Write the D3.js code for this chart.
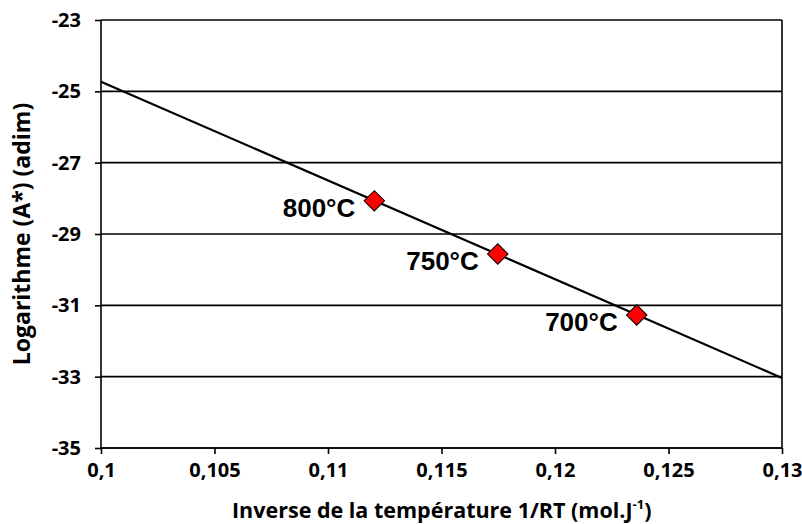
<!DOCTYPE html>
<html><head><meta charset="utf-8">
<script src="https://cdn.jsdelivr.net/npm/d3@7"></script>
<style>body{margin:0;background:#fff}svg{display:block}</style>
</head><body>
<svg id="c" width="802" height="524"></svg>
<script>
const invRT = [0.11204, 0.11748, 0.12360];
const lnA = [-28.07, -29.56, -31.27];
const labels = ["800°C", "750°C", "700°C"];
const xTicks = [0.1, 0.105, 0.11, 0.115, 0.12, 0.125, 0.13];
const yTicks = [-35, -33, -31, -29, -27, -25, -23];

const svg = d3.select("#c");
const L = 101, R = 782, T = 20, B = 448;
const x = d3.scaleLinear().domain([0.1, 0.13]).range([L, R]);
const y = d3.scaleLinear().domain([-35, -23]).range([B, T]);
const fmt = d => String(d).replace(".", ",");
const arial = "Liberation Sans, Arial, sans-serif";
const cal = "Open Sans, sans-serif";

// gridlines
svg.append("g").selectAll("line").data(yTicks).join("line")
  .attr("x1", L).attr("x2", R).attr("y1", d => y(d)).attr("y2", d => y(d))
  .attr("stroke", "#000").attr("stroke-width", 1.6);

// right border
svg.append("line").attr("x1", R).attr("x2", R).attr("y1", T).attr("y2", B)
  .attr("stroke", "#000").attr("stroke-width", 1.6);

const xAx = svg.append("g").attr("transform", `translate(0,${B})`)
  .call(d3.axisBottom(x).tickValues(xTicks).tickFormat(fmt).tickSize(6).tickPadding(9));
const yAx = svg.append("g").attr("transform", `translate(${L},0)`)
  .call(d3.axisLeft(y).tickValues(yTicks).tickFormat(d => d).tickSize(6).tickPadding(14));
[xAx, yAx].forEach(g => {
  g.attr("font-family", cal).attr("font-size", 20).attr("font-weight", "bold");
  g.select(".domain").attr("stroke", "#000").attr("stroke-width", 1.6);
  g.selectAll(".tick line").attr("stroke", "#000").attr("stroke-width", 1.6);
  g.selectAll("text").attr("fill", "#000");
});
xAx.select(".domain").attr("d", `M${L},0H${R}`);
yAx.select(".domain").attr("d", `M0,${T}V${B}`);

// regression line
const mx = d3.mean(invRT), my = d3.mean(lnA);
const slope = d3.sum(invRT.map((v, i) => (v - mx) * (lnA[i] - my))) / d3.sum(invRT.map(v => (v - mx) ** 2));
const icpt = my - slope * mx;
const dom = x.domain();
svg.append("line")
  .attr("x1", x(dom[0])).attr("y1", y(icpt + slope * dom[0]))
  .attr("x2", x(dom[1])).attr("y2", y(icpt + slope * dom[1]))
  .attr("stroke", "#000").attr("stroke-width", 2.2);

// markers
const pts = invRT.map((v, i) => ({x: v, y: lnA[i], l: labels[i]}));
svg.append("g").selectAll("path").data(pts).join("path")
  .attr("d", d3.symbol(d3.symbolSquare, 210)())
  .attr("transform", d => `translate(${x(d.x)},${y(d.y)}) rotate(45)`)
  .attr("fill", "#ff0000").attr("stroke", "#000").attr("stroke-width", 1);

svg.append("g").selectAll("text").data(pts).join("text")
  .attr("x", d => x(d.x) - 19).attr("y", d => y(d.y) + 16)
  .attr("text-anchor", "end")
  .attr("font-family", arial).attr("font-size", 26).attr("font-weight", "bold")
  .attr("fill", "#000")
  .text(d => d.l);

// axis titles
const xt = svg.append("text").attr("x", 232).attr("y", 518)
  .attr("font-family", cal).attr("font-size", 21.5).attr("font-weight", "bold").attr("fill", "#000");
xt.append("tspan").text("Inverse de la température 1/RT (mol.J");
xt.append("tspan").attr("dy", -9).attr("font-size", 13).text("-1");
xt.append("tspan").attr("dy", 9).text(")");

svg.append("text").attr("transform", "translate(30,234) rotate(-90)").attr("text-anchor", "middle")
  .attr("font-family", cal).attr("font-size", 23).attr("font-weight", "bold").attr("fill", "#000")
  .text("Logarithme (A*) (adim)");
</script>
</body></html>
